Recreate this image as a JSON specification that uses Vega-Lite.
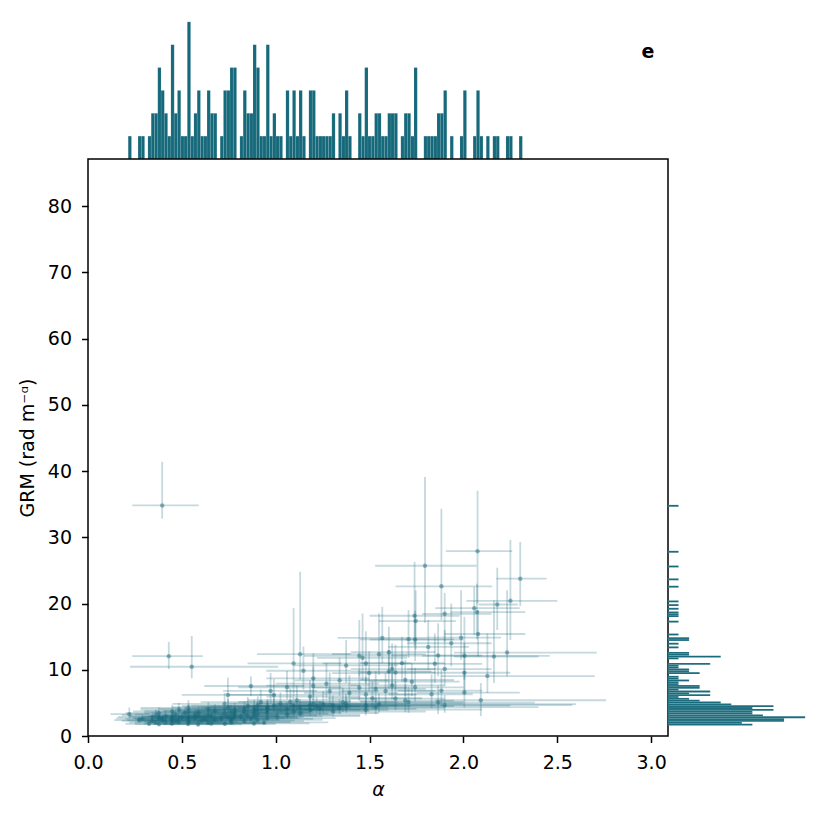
{
  "$schema": "https://vega.github.io/schema/vega-lite/v6.json",
  "background": "white",
  "padding": {"left": 17, "top": 15, "right": 5, "bottom": 5},
  "datasets": {
    "pts": [
      {"a":0.3953,"g":34.8,"al":0.236,"ah":0.59,"gl":32.8,"gh":41.4},
      {"a":2.0753,"g":27.9,"al":1.906,"ah":2.26,"gl":20.0,"gh":37.0},
      {"a":1.7953,"g":25.7,"al":1.53,"ah":2.07,"gl":17.1,"gh":39.1},
      {"a":2.3028,"g":23.75,"al":2.176,"ah":2.443,"gl":19.6,"gh":29.3},
      {"a":1.8828,"g":22.6,"al":1.639,"ah":2.153,"gl":17.5,"gh":34.3},
      {"a":2.2503,"g":20.4,"al":2.016,"ah":2.5,"gl":14.5,"gh":29.6},
      {"a":2.1803,"g":19.85,"al":2.08,"ah":2.29,"gl":16.0,"gh":25.4},
      {"a":2.0578,"g":19.3,"al":1.85,"ah":2.3,"gl":15.2,"gh":22.5},
      {"a":2.0723,"g":18.7,"al":1.93,"ah":2.33,"gl":14.6,"gh":23.0},
      {"a":1.9003,"g":18.45,"al":1.78,"ah":2.15,"gl":14.2,"gh":21.6},
      {"a":1.7398,"g":18.15,"al":1.5,"ah":1.98,"gl":13.6,"gh":26.3},
      {"a":1.7458,"g":17.35,"al":1.55,"ah":1.96,"gl":13.0,"gh":22.0},
      {"a":2.0783,"g":15.4,"al":1.9,"ah":2.33,"gl":12.0,"gh":19.0},
      {"a":1.9878,"g":14.85,"al":1.8,"ah":2.2,"gl":11.5,"gh":22.0},
      {"a":1.5678,"g":14.8,"al":1.33,"ah":1.8,"gl":11.0,"gh":19.5},
      {"a":1.7428,"g":14.55,"al":1.5,"ah":2.0,"gl":11.3,"gh":18.9},
      {"a":1.7078,"g":14.6,"al":1.45,"ah":1.95,"gl":11.8,"gh":19.0},
      {"a":1.9353,"g":14.0,"al":1.7,"ah":2.15,"gl":10.5,"gh":20.0},
      {"a":1.8128,"g":13.45,"al":1.6,"ah":2.03,"gl":10.0,"gh":17.5},
      {"a":2.2328,"g":12.6,"al":1.95,"ah":2.71,"gl":9.0,"gh":22.0},
      {"a":1.6028,"g":12.65,"al":1.4,"ah":1.85,"gl":9.5,"gh":16.5},
      {"a":1.1303,"g":12.35,"al":0.9,"ah":1.4,"gl":8.5,"gh":24.8},
      {"a":1.5503,"g":12.35,"al":1.3,"ah":1.8,"gl":9.2,"gh":18.5},
      {"a":0.4303,"g":12.05,"al":0.236,"ah":0.612,"gl":10.1,"gh":14.2},
      {"a":2.0053,"g":12.1,"al":1.78,"ah":2.46,"gl":8.5,"gh":18.0},
      {"a":2.1628,"g":12.0,"al":1.95,"ah":2.4,"gl":8.0,"gh":20.5},
      {"a":1.8653,"g":12.15,"al":1.62,"ah":2.1,"gl":9.0,"gh":17.0},
      {"a":1.4453,"g":12.1,"al":1.15,"ah":1.7,"gl":9.0,"gh":17.5},
      {"a":1.4628,"g":11.8,"al":1.22,"ah":1.7,"gl":8.5,"gh":18.5},
      {"a":1.0953,"g":10.95,"al":0.85,"ah":1.35,"gl":6.0,"gh":19.3},
      {"a":1.8478,"g":10.9,"al":1.6,"ah":2.1,"gl":8.0,"gh":15.5},
      {"a":1.6728,"g":11.0,"al":1.45,"ah":1.9,"gl":8.2,"gh":15.0},
      {"a":1.4803,"g":10.95,"al":1.25,"ah":1.72,"gl":8.0,"gh":15.8},
      {"a":1.3753,"g":10.65,"al":1.1,"ah":1.65,"gl":8.0,"gh":14.5},
      {"a":0.5528,"g":10.45,"al":0.224,"ah":1.014,"gl":8.7,"gh":15.1},
      {"a":1.9003,"g":10.1,"al":1.7,"ah":2.15,"gl":7.5,"gh":16.0},
      {"a":1.6203,"g":10.1,"al":1.4,"ah":1.85,"gl":7.0,"gh":14.0},
      {"a":1.1478,"g":9.85,"al":0.95,"ah":1.4,"gl":7.0,"gh":13.5},
      {"a":1.6028,"g":9.75,"al":1.4,"ah":1.83,"gl":7.2,"gh":13.0},
      {"a":1.6378,"g":9.6,"al":1.45,"ah":1.85,"gl":7.0,"gh":13.8},
      {"a":2.0053,"g":9.55,"al":1.75,"ah":2.25,"gl":6.5,"gh":14.0},
      {"a":1.4978,"g":9.5,"al":1.3,"ah":1.75,"gl":6.8,"gh":12.8},
      {"a":2.1278,"g":9.05,"al":1.88,"ah":2.7,"gl":6.5,"gh":15.5},
      {"a":1.2003,"g":8.7,"al":0.95,"ah":1.5,"gl":6.2,"gh":12.5},
      {"a":1.6903,"g":8.45,"al":1.45,"ah":1.95,"gl":6.0,"gh":11.5},
      {"a":1.3403,"g":8.4,"al":1.1,"ah":1.6,"gl":6.0,"gh":11.8},
      {"a":1.7253,"g":8.2,"al":1.5,"ah":1.98,"gl":6.0,"gh":11.0},
      {"a":1.2703,"g":7.9,"al":1.0,"ah":1.55,"gl":5.5,"gh":11.0},
      {"a":1.2003,"g":7.6,"al":0.95,"ah":1.45,"gl":5.4,"gh":10.5},
      {"a":1.6203,"g":7.65,"al":1.4,"ah":1.9,"gl":5.5,"gh":10.8},
      {"a":0.8678,"g":7.55,"al":0.62,"ah":1.15,"gl":6.0,"gh":9.0},
      {"a":1.7428,"g":7.35,"al":1.5,"ah":2.0,"gl":5.2,"gh":10.3},
      {"a":1.4453,"g":7.3,"al":1.2,"ah":1.7,"gl":5.3,"gh":10.0},
      {"a":1.0603,"g":7.35,"al":0.8,"ah":1.35,"gl":5.5,"gh":9.8},
      {"a":1.5328,"g":7.1,"al":1.28,"ah":1.8,"gl":5.0,"gh":9.8},
      {"a":0.9728,"g":6.8,"al":0.72,"ah":1.22,"gl":5.0,"gh":9.5},
      {"a":1.2878,"g":6.75,"al":1.05,"ah":1.55,"gl":4.8,"gh":9.6},
      {"a":1.5853,"g":6.8,"al":1.35,"ah":1.85,"gl":4.8,"gh":9.5},
      {"a":1.8828,"g":6.85,"al":1.65,"ah":2.1,"gl":4.5,"gh":10.0},
      {"a":2.0053,"g":6.55,"al":1.75,"ah":2.3,"gl":4.3,"gh":9.8},
      {"a":1.3928,"g":6.5,"al":1.15,"ah":1.65,"gl":4.6,"gh":9.2},
      {"a":0.7453,"g":6.2,"al":0.5,"ah":1.0,"gl":4.6,"gh":8.8},
      {"a":1.4803,"g":6.25,"al":1.25,"ah":1.75,"gl":4.4,"gh":8.9},
      {"a":0.9903,"g":6.2,"al":0.75,"ah":1.25,"gl":4.4,"gh":8.6},
      {"a":1.8303,"g":6.3,"al":1.6,"ah":2.05,"gl":4.2,"gh":9.3},
      {"a":1.1828,"g":5.95,"al":0.95,"ah":1.45,"gl":4.2,"gh":8.4},
      {"a":1.5153,"g":5.7,"al":1.28,"ah":1.78,"gl":4.0,"gh":8.3},
      {"a":1.6378,"g":5.65,"al":1.4,"ah":1.9,"gl":3.9,"gh":8.2},
      {"a":2.0928,"g":5.4,"al":1.85,"ah":2.76,"gl":3.0,"gh":8.0},
      {"a":1.1128,"g":5.4,"al":0.85,"ah":1.4,"gl":3.8,"gh":7.6},
      {"a":1.6903,"g":5.35,"al":1.45,"ah":1.95,"gl":3.6,"gh":7.8},
      {"a":0.9203,"g":5.1,"al":0.6,"ah":1.25,"gl":3.7,"gh":7.0},
      {"a":1.0778,"g":5.15,"al":0.8,"ah":1.4,"gl":3.7,"gh":7.2},
      {"a":1.3578,"g":5.1,"al":1.1,"ah":1.65,"gl":3.6,"gh":7.3},
      {"a":1.7078,"g":5.15,"al":1.45,"ah":2.0,"gl":3.5,"gh":7.5},
      {"a":1.8653,"g":5.05,"al":1.55,"ah":2.38,"gl":3.3,"gh":7.6},
      {"a":0.7278,"g":4.85,"al":0.45,"ah":1.05,"gl":3.6,"gh":6.5},
      {"a":1.2528,"g":4.8,"al":1.0,"ah":1.55,"gl":3.5,"gh":6.8},
      {"a":1.0253,"g":4.9,"al":0.75,"ah":1.3,"gl":3.6,"gh":6.6},
      {"a":0.2203,"g":3.3,"al":0.12,"ah":0.33,"gl":2.7,"gh":4.3},
      {"a":0.2728,"g":2.4,"al":0.14,"ah":0.42,"gl":2.0,"gh":2.9},
      {"a":0.2903,"g":2.65,"al":0.15,"ah":0.45,"gl":2.2,"gh":3.2},
      {"a":0.3253,"g":1.85,"al":0.2,"ah":0.46,"gl":1.6,"gh":2.3},
      {"a":0.3418,"g":2.3,"al":0.18,"ah":0.52,"gl":1.9,"gh":2.8},
      {"a":0.3438,"g":2.9,"al":0.16,"ah":0.55,"gl":2.4,"gh":3.6},
      {"a":0.3593,"g":2.05,"al":0.22,"ah":0.5,"gl":1.7,"gh":2.5},
      {"a":0.3613,"g":3.15,"al":0.18,"ah":0.6,"gl":2.5,"gh":4.0},
      {"a":0.3758,"g":2.6,"al":0.2,"ah":0.58,"gl":2.1,"gh":3.2},
      {"a":0.3778,"g":1.78,"al":0.25,"ah":0.5,"gl":1.5,"gh":2.2},
      {"a":0.3798,"g":2.85,"al":0.22,"ah":0.62,"gl":2.3,"gh":3.5},
      {"a":0.3768,"g":3.45,"al":0.2,"ah":0.6,"gl":2.8,"gh":4.3},
      {"a":0.3943,"g":2.35,"al":0.21,"ah":0.64,"gl":1.9,"gh":2.9},
      {"a":0.3963,"g":2.7,"al":0.24,"ah":0.56,"gl":2.2,"gh":3.3},
      {"a":0.4118,"g":2.1,"al":0.25,"ah":0.6,"gl":1.7,"gh":2.6},
      {"a":0.4138,"g":3.0,"al":0.22,"ah":0.66,"gl":2.4,"gh":3.8},
      {"a":0.4458,"g":2.4,"al":0.26,"ah":0.7,"gl":1.9,"gh":3.0},
      {"a":0.4468,"g":1.88,"al":0.3,"ah":0.62,"gl":1.6,"gh":2.3},
      {"a":0.4478,"g":2.6,"al":0.25,"ah":0.72,"gl":2.1,"gh":3.2},
      {"a":0.4488,"g":3.7,"al":0.24,"ah":0.7,"gl":3.0,"gh":4.7},
      {"a":0.4498,"g":2.95,"al":0.3,"ah":0.66,"gl":2.4,"gh":3.7},
      {"a":0.4643,"g":2.3,"al":0.28,"ah":0.72,"gl":1.9,"gh":2.8},
      {"a":0.4663,"g":3.25,"al":0.25,"ah":0.76,"gl":2.6,"gh":4.1},
      {"a":0.4818,"g":2.12,"al":0.3,"ah":0.7,"gl":1.75,"gh":2.6},
      {"a":0.4828,"g":2.65,"al":0.27,"ah":0.78,"gl":2.1,"gh":3.3},
      {"a":0.4838,"g":4.0,"al":0.28,"ah":0.74,"gl":3.2,"gh":5.0},
      {"a":0.5003,"g":2.85,"al":0.3,"ah":0.8,"gl":2.3,"gh":3.5},
      {"a":0.5178,"g":3.5,"al":0.3,"ah":0.78,"gl":2.8,"gh":4.4},
      {"a":0.5333,"g":1.82,"al":0.35,"ah":0.78,"gl":1.55,"gh":2.2},
      {"a":0.5343,"g":2.4,"al":0.3,"ah":0.85,"gl":1.95,"gh":3.0},
      {"a":0.5353,"g":2.95,"al":0.32,"ah":0.82,"gl":2.4,"gh":3.7},
      {"a":0.5363,"g":3.75,"al":0.3,"ah":0.9,"gl":3.0,"gh":4.8},
      {"a":0.5373,"g":2.15,"al":0.33,"ah":0.8,"gl":1.75,"gh":2.7},
      {"a":0.5348,"g":4.25,"al":0.28,"ah":0.86,"gl":3.4,"gh":5.4},
      {"a":0.5693,"g":2.7,"al":0.35,"ah":0.88,"gl":2.2,"gh":3.4},
      {"a":0.5713,"g":3.2,"al":0.36,"ah":0.85,"gl":2.6,"gh":4.0},
      {"a":0.5868,"g":1.75,"al":0.4,"ah":0.82,"gl":1.5,"gh":2.15},
      {"a":0.5878,"g":2.85,"al":0.37,"ah":0.9,"gl":2.3,"gh":3.6},
      {"a":0.5888,"g":3.55,"al":0.35,"ah":0.95,"gl":2.9,"gh":4.5},
      {"a":0.6053,"g":2.3,"al":0.4,"ah":0.92,"gl":1.9,"gh":2.9},
      {"a":0.6228,"g":2.55,"al":0.4,"ah":0.95,"gl":2.1,"gh":3.2},
      {"a":0.6393,"g":2.0,"al":0.42,"ah":0.92,"gl":1.65,"gh":2.5},
      {"a":0.6403,"g":3.1,"al":0.4,"ah":1.0,"gl":2.5,"gh":3.9},
      {"a":0.6413,"g":4.05,"al":0.38,"ah":1.02,"gl":3.3,"gh":5.1},
      {"a":0.6568,"g":1.9,"al":0.45,"ah":0.95,"gl":1.6,"gh":2.35},
      {"a":0.6588,"g":3.0,"al":0.42,"ah":1.0,"gl":2.4,"gh":3.8},
      {"a":0.6743,"g":2.45,"al":0.44,"ah":1.02,"gl":2.0,"gh":3.1},
      {"a":0.6763,"g":3.8,"al":0.4,"ah":1.05,"gl":3.1,"gh":4.8},
      {"a":0.7103,"g":2.65,"al":0.46,"ah":1.05,"gl":2.15,"gh":3.3},
      {"a":0.7268,"g":3.4,"al":0.45,"ah":1.1,"gl":2.8,"gh":4.3},
      {"a":0.7288,"g":1.85,"al":0.5,"ah":1.0,"gl":1.55,"gh":2.3},
      {"a":0.7443,"g":2.9,"al":0.48,"ah":1.1,"gl":2.35,"gh":3.6},
      {"a":0.7463,"g":4.35,"al":0.45,"ah":1.12,"gl":3.5,"gh":5.6},
      {"a":0.7608,"g":2.35,"al":0.5,"ah":1.1,"gl":1.9,"gh":2.95},
      {"a":0.7618,"g":3.7,"al":0.48,"ah":1.15,"gl":3.0,"gh":4.7},
      {"a":0.7638,"g":2.1,"al":0.52,"ah":1.08,"gl":1.7,"gh":2.6},
      {"a":0.7648,"g":2.7,"al":0.5,"ah":1.12,"gl":2.2,"gh":3.4},
      {"a":0.7783,"g":3.25,"al":0.5,"ah":1.15,"gl":2.6,"gh":4.1},
      {"a":0.7793,"g":2.8,"al":0.52,"ah":1.12,"gl":2.25,"gh":3.5},
      {"a":0.7813,"g":3.95,"al":0.48,"ah":1.2,"gl":3.2,"gh":5.0},
      {"a":0.7823,"g":3.5,"al":0.5,"ah":1.18,"gl":2.85,"gh":4.4},
      {"a":0.8153,"g":2.9,"al":0.55,"ah":1.15,"gl":2.35,"gh":3.6},
      {"a":0.8318,"g":3.65,"al":0.55,"ah":1.2,"gl":2.95,"gh":4.6},
      {"a":0.8328,"g":2.25,"al":0.58,"ah":1.15,"gl":1.85,"gh":2.8},
      {"a":0.8338,"g":4.1,"al":0.52,"ah":1.25,"gl":3.3,"gh":5.2},
      {"a":0.8493,"g":3.1,"al":0.55,"ah":1.22,"gl":2.5,"gh":3.9},
      {"a":0.8513,"g":4.55,"al":0.5,"ah":1.3,"gl":3.6,"gh":5.9},
      {"a":0.8678,"g":2.6,"al":0.6,"ah":1.2,"gl":2.1,"gh":3.25},
      {"a":0.8833,"g":3.4,"al":0.58,"ah":1.28,"gl":2.75,"gh":4.3},
      {"a":0.8843,"g":1.9,"al":0.62,"ah":1.18,"gl":1.6,"gh":2.35},
      {"a":0.8853,"g":4.3,"al":0.55,"ah":1.35,"gl":3.4,"gh":5.5},
      {"a":0.8863,"g":2.95,"al":0.6,"ah":1.25,"gl":2.4,"gh":3.7},
      {"a":0.8873,"g":3.85,"al":0.57,"ah":1.3,"gl":3.1,"gh":4.9},
      {"a":0.9013,"g":2.45,"al":0.62,"ah":1.25,"gl":2.0,"gh":3.05},
      {"a":0.9023,"g":4.0,"al":0.6,"ah":1.35,"gl":3.2,"gh":5.1},
      {"a":0.9033,"g":3.25,"al":0.6,"ah":1.3,"gl":2.6,"gh":4.1},
      {"a":0.9043,"g":4.6,"al":0.55,"ah":1.4,"gl":3.6,"gh":6.0},
      {"a":0.9378,"g":2.05,"al":0.66,"ah":1.28,"gl":1.7,"gh":2.55},
      {"a":0.9533,"g":3.55,"al":0.65,"ah":1.35,"gl":2.85,"gh":4.5},
      {"a":0.9543,"g":4.25,"al":0.62,"ah":1.4,"gl":3.4,"gh":5.4},
      {"a":0.9553,"g":2.7,"al":0.66,"ah":1.32,"gl":2.2,"gh":3.4},
      {"a":0.9563,"g":3.95,"al":0.64,"ah":1.45,"gl":3.1,"gh":5.1},
      {"a":0.9573,"g":4.4,"al":0.6,"ah":1.5,"gl":3.5,"gh":5.6},
      {"a":0.9903,"g":4.5,"al":0.65,"ah":1.45,"gl":3.6,"gh":5.8},
      {"a":1.0078,"g":3.0,"al":0.7,"ah":1.45,"gl":2.4,"gh":3.8},
      {"a":1.0593,"g":4.05,"al":0.72,"ah":1.5,"gl":3.2,"gh":5.2},
      {"a":1.0613,"g":3.2,"al":0.75,"ah":1.45,"gl":2.55,"gh":4.1},
      {"a":1.0943,"g":4.55,"al":0.75,"ah":1.55,"gl":3.6,"gh":5.9},
      {"a":1.0963,"g":3.75,"al":0.78,"ah":1.5,"gl":3.0,"gh":4.8},
      {"a":1.1293,"g":4.3,"al":0.8,"ah":1.6,"gl":3.4,"gh":5.6},
      {"a":1.1313,"g":3.45,"al":0.82,"ah":1.55,"gl":2.75,"gh":4.4},
      {"a":1.1818,"g":4.6,"al":0.85,"ah":1.65,"gl":3.6,"gh":6.0},
      {"a":1.1838,"g":3.95,"al":0.88,"ah":1.6,"gl":3.1,"gh":5.1},
      {"a":1.2003,"g":4.85,"al":0.9,"ah":1.7,"gl":3.8,"gh":6.3},
      {"a":1.2178,"g":4.5,"al":0.9,"ah":1.72,"gl":3.5,"gh":5.9},
      {"a":1.2353,"g":4.1,"al":0.92,"ah":1.75,"gl":3.2,"gh":5.3},
      {"a":1.3043,"g":4.65,"al":0.98,"ah":1.85,"gl":3.6,"gh":6.1},
      {"a":1.3063,"g":3.7,"al":1.0,"ah":1.8,"gl":2.9,"gh":4.8},
      {"a":1.3403,"g":4.25,"al":1.0,"ah":1.9,"gl":3.3,"gh":5.6},
      {"a":1.3743,"g":4.9,"al":1.05,"ah":2.0,"gl":3.8,"gh":6.4},
      {"a":1.3763,"g":4.5,"al":1.08,"ah":1.95,"gl":3.5,"gh":5.9},
      {"a":1.4793,"g":4.0,"al":1.15,"ah":2.1,"gl":3.1,"gh":5.3},
      {"a":1.4813,"g":4.6,"al":1.12,"ah":2.25,"gl":3.5,"gh":6.0},
      {"a":1.5328,"g":4.35,"al":1.2,"ah":2.4,"gl":3.3,"gh":5.8},
      {"a":1.5503,"g":4.8,"al":1.22,"ah":2.6,"gl":3.6,"gh":6.4},
      {"a":1.9003,"g":4.65,"al":1.55,"ah":2.58,"gl":3.5,"gh":6.2}
    ]
  },
  "data": {"name": "pts"},
  "spacing": 0,
  "bounds": "flush",
  "vconcat": [
    {
      "width": 580,
      "height": 144,
      "view": {"stroke": null},
      "layer": [
        {
          "mark": {"type": "bar", "color": "#16697a", "binSpacing": 0, "stroke": "#ffffff", "strokeWidth": 0.3, "strokeOpacity": 0.3},
          "encoding": {
            "x": {"field": "a", "type": "quantitative", "bin": {"extent": [0.2115, 2.3115], "step": 0.0175, "nice": false},
                  "scale": {"domain": [0, 3.09], "nice": false, "zero": false}, "axis": null},
            "y": {"aggregate": "count", "type": "quantitative", "scale": {"domain": [0, 6.3], "nice": false}, "axis": null}
          }
        },
        {
          "data": {"values": [{"label": "e"}]},
          "mark": {"type": "text", "font": "DejaVu Sans", "fontSize": 19, "fontWeight": "bold", "color": "#000000", "align": "center", "baseline": "middle"},
          "encoding": {
            "x": {"datum": 2.983, "type": "quantitative"},
            "y": {"datum": 4.68, "type": "quantitative"},
            "text": {"field": "label"}
          }
        }
      ]
    },
    {
      "spacing": 0,
      "bounds": "flush",
      "hconcat": [
        {
          "width": 580,
          "height": 577,
          "layer": [
            {
              "mark": {"type": "rule", "color": "#16697a", "opacity": 0.25, "strokeWidth": 1.8},
              "encoding": {
                "x": {"field": "al", "type": "quantitative", "title": "α", "scale": {"domain": [0, 3.09], "nice": false, "zero": false},
                      "axis": {"values": [0, 0.5, 1, 1.5, 2, 2.5, 3], "format": ".1f"}},
                "x2": {"field": "ah"},
                "y": {"field": "g", "type": "quantitative", "title": "GRM (rad m⁻ᵅ)", "scale": {"domain": [0, 87.1], "nice": false, "zero": false},
                      "axis": {"values": [0, 10, 20, 30, 40, 50, 60, 70, 80]}}
              }
            },
            {
              "mark": {"type": "rule", "color": "#16697a", "opacity": 0.25, "strokeWidth": 1.8},
              "encoding": {
                "x": {"field": "a", "type": "quantitative", "title": "α", "scale": {"domain": [0, 3.09], "nice": false, "zero": false},
                      "axis": {"values": [0, 0.5, 1, 1.5, 2, 2.5, 3], "format": ".1f"}},
                "y": {"field": "gl", "type": "quantitative", "title": "GRM (rad m⁻ᵅ)", "scale": {"domain": [0, 87.1], "nice": false, "zero": false},
                      "axis": {"values": [0, 10, 20, 30, 40, 50, 60, 70, 80]}},
                "y2": {"field": "gh"}
              }
            },
            {
              "mark": {"type": "circle", "color": "#16697a", "opacity": 0.45, "size": 20},
              "encoding": {
                "x": {"field": "a", "type": "quantitative", "title": "α", "scale": {"domain": [0, 3.09], "nice": false, "zero": false},
                      "axis": {"values": [0, 0.5, 1, 1.5, 2, 2.5, 3], "format": ".1f"}},
                "y": {"field": "g", "type": "quantitative", "title": "GRM (rad m⁻ᵅ)", "scale": {"domain": [0, 87.1], "nice": false, "zero": false},
                      "axis": {"values": [0, 10, 20, 30, 40, 50, 60, 70, 80]}}
              }
            }
          ]
        },
        {
          "width": 144,
          "height": 577,
          "view": {"stroke": null},
          "mark": {"type": "bar", "color": "#16697a", "binSpacing": 0, "stroke": "#ffffff", "strokeWidth": 0.3, "strokeOpacity": 0.3},
          "encoding": {
            "y": {"field": "g", "type": "quantitative", "bin": {"extent": [1.66, 34.96], "step": 0.2775, "nice": false},
                  "scale": {"domain": [0, 87.1], "nice": false, "zero": false}, "axis": null},
            "x": {"aggregate": "count", "type": "quantitative", "scale": {"domain": [0, 13.65], "nice": false}, "axis": null}
          }
        }
      ]
    }
  ],
  "config": {
    "font": "DejaVu Sans",
    "view": {"stroke": "#000000", "strokeWidth": 1.5},
    "axis": {
      "domain": false,
      "grid": false,
      "tickColor": "#000000",
      "tickWidth": 1.5,
      "tickSize": 6.5,
      "labelFont": "DejaVu Sans",
      "labelFontSize": 19,
      "labelColor": "#000000",
      "labelFlush": false,
      "labelOverlap": false,
      "titleFont": "DejaVu Sans",
      "titleFontSize": 19,
      "titleFontWeight": "normal",
      "titleColor": "#000000"
    },
    "axisX": {"labelPadding": 11, "titlePadding": 8, "titleFontStyle": "italic"},
    "axisY": {"labelPadding": 10, "titlePadding": 10}
  }
}
